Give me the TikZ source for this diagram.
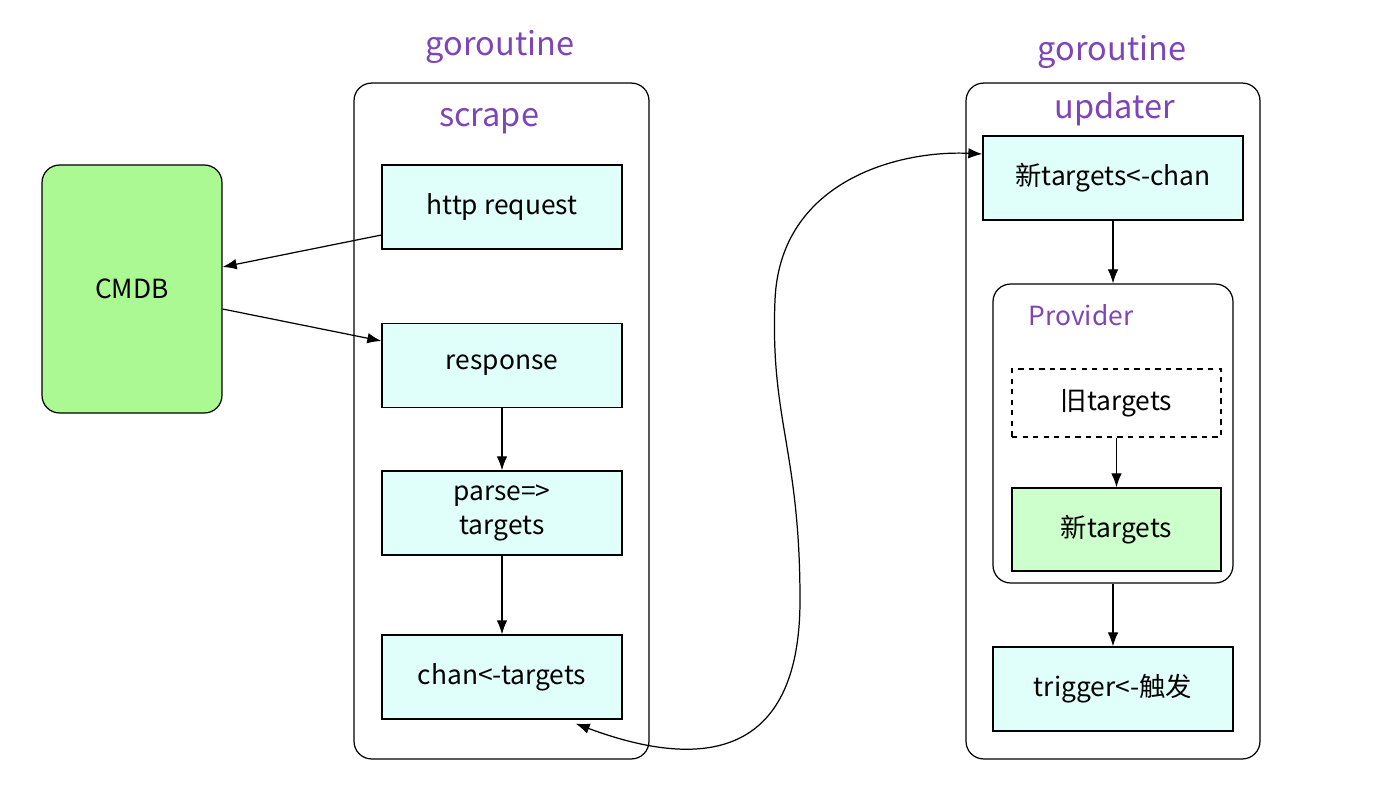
\documentclass[tikz,border=0pt]{standalone}
\usepackage{fontspec}
\setmainfont{Noto Sans CJK SC}
\usetikzlibrary{arrows.meta,positioning}
\definecolor{boxcyan}{HTML}{E0FFFA}
\definecolor{cmdbgreen}{HTML}{AAF993}
\definecolor{newgreen}{HTML}{CCFFCC}
\definecolor{labelpurple}{HTML}{7D45B8}
\begin{document}
\begin{tikzpicture}[x=0.02cm,y=-0.02cm,>={Latex[length=8pt,width=6pt]},line width=0.7pt,
  stage/.style={draw, fill=boxcyan, minimum width=4.8cm, minimum height=1.68cm, align=center, font=\fontsize{15}{19}\selectfont},
  group/.style={draw, rounded corners=10pt},
  title/.style={text=labelpurple, font=\fontsize{18.5}{20}\selectfont}]
\useasboundingbox (0,0) rectangle (1374,792);
% left goroutine
\node[group, minimum width=5.9cm, minimum height=13.52cm] (scrape) at (501.5,421) {};
\node[title] (goL) at (500,47) {goroutine};
\node[title] (scrapeT) at (489,121) {scrape};
\node[stage] (http) at (502,207) {http request};
\node[stage] (resp) at (502,365.5) {response};
\node[stage] (parse) at (502,513) {parse=>\\targets};
\node[stage] (chan) at (502,677) {chan<-targets};
% CMDB
\node[draw, fill=cmdbgreen, rounded corners=10pt, minimum width=3.6cm, minimum height=4.96cm, font=\fontsize{15}{17}\selectfont] (cmdb) at (132,289) {CMDB};
% right goroutine
\node[group, minimum width=5.88cm, minimum height=13.52cm] (updater) at (1113,421) {};
\node[title] (goR) at (1112,52) {goroutine};
\node[title] (updT) at (1115,109) {updater};
\node[stage, minimum width=5.2cm] (newchan) at (1113,178) {新targets<-chan};
\node[group, minimum width=4.8cm, minimum height=5.98cm] (prov) at (1113,433.5) {};
\node[title, font=\fontsize{15}{17}\selectfont] (provT) at (1081,315) {Provider};
\node[stage, fill=white, dashed, minimum width=4.18cm, minimum height=1.36cm] (old) at (1116.5,403) {旧targets};
\node[stage, fill=newgreen, minimum width=4.18cm, minimum height=1.66cm] (new) at (1116.5,529.5) {新targets};
\node[stage] (trig) at (1113,689) {trigger<-触发};
% arrows
\draw[->] (http.west|-0,235) -- (cmdb.east|-0,267);
\draw[->] (cmdb.east|-0,309) -- (resp.west|-0,341);
\draw[->] (resp) -- (parse);
\draw[->] (parse) -- (chan);
\draw[->] (newchan) -- (prov);
\draw[->] (old) -- (new);
\draw[->] (prov) -- (trig);
\draw[<->] (chan.south east)++(-47,4) .. controls (700,770) and (800,760) .. (800,600)
  .. controls (800,450) and (770,420) .. (775,300) .. controls (780,180) and (900,150) .. (newchan.north west|-0,154);
\end{tikzpicture}
\end{document}
